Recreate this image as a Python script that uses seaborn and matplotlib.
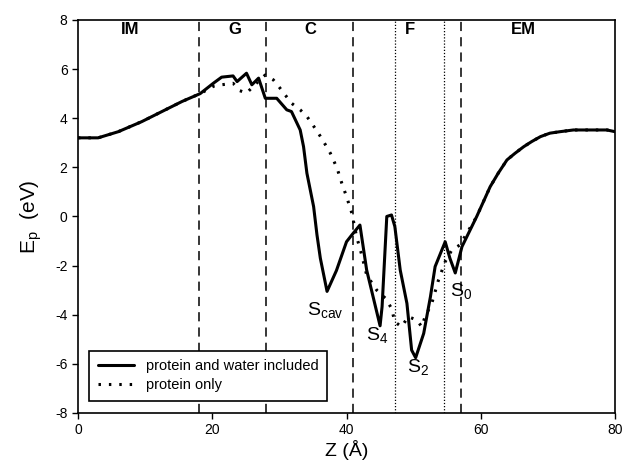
import matplotlib
matplotlib.use("Agg")
import matplotlib.pyplot as plt
import seaborn as sns
import pandas as pd

# Potential energy profile along the pore axis
z_water = [0, 3, 6, 9.5, 12.5, 15.5, 18.2, 20.2, 21.4, 23.1, 23.7, 25.1, 25.9, 26.9,
           27.9, 29.6, 31.1, 31.8, 33.1, 33.6, 34.1, 34.6, 35.1, 35.6, 36.1, 37.1,
           38.5, 40.0, 40.8, 42.0, 43.0, 45.0, 45.3, 46.0, 46.7, 47.2, 48.0, 49.0,
           49.7, 50.3, 51.5, 52.5, 53.2, 54.7, 55.4, 56.2, 57.2, 59.4, 61.4, 62.6,
           63.9, 65.1, 66.4, 67.6, 68.9, 70.3, 71.8, 73.8, 78.8, 80]
ep_water = [3.2, 3.2, 3.45, 3.86, 4.27, 4.68, 5.0, 5.43, 5.67, 5.72, 5.49, 5.83, 5.36, 5.63,
            4.81, 4.81, 4.34, 4.27, 3.52, 2.84, 1.76, 1.08, 0.4, -0.75, -1.7, -3.05,
            -2.2, -1.03, -0.75, -0.35, -2.18, -4.45, -3.67, 0.0, 0.06, -0.41, -2.18, -3.54,
            -5.44, -5.75, -4.76, -3.27, -2.04, -1.03, -1.70, -2.3, -1.23, 0.0, 1.21, 1.76,
            2.3, 2.57, 2.84, 3.05, 3.25, 3.39, 3.45, 3.52, 3.52, 3.45]

z_protein = [0, 3, 6, 9.5, 12.5, 15.5, 18.2, 20.2, 21.4, 23.1, 24.1, 25.1, 26.5, 27.9,
             29.1, 30.1, 31.8, 33.1, 34.1, 34.8, 36.3, 37.6, 38.6, 39.3, 40.0, 40.8,
             41.5, 42.2, 43.0, 44.5, 45.8, 46.7, 47.2, 48.2, 49.2, 50.5, 51.2, 51.7,
             52.7, 53.7, 54.7, 55.7, 56.9, 59.4, 61.4, 62.6, 63.9, 65.1, 66.4, 67.6,
             68.9, 70.3, 71.8, 73.8, 78.8, 80]
ep_protein = [3.2, 3.2, 3.45, 3.86, 4.27, 4.68, 5.0, 5.3, 5.36, 5.42, 5.12, 5.02, 5.4, 5.76,
              5.56, 5.22, 4.61, 4.34, 4.07, 3.80, 3.18, 2.57, 1.96, 1.35, 0.81, 0.13,
              -0.82, -1.5, -2.38, -3.0, -3.33, -3.74, -4.29, -4.49, -4.08, -4.22, -4.49, -4.08,
              -3.54, -2.59, -1.84, -1.36, -1.16, 0.0, 1.21, 1.76, 2.3, 2.57, 2.84, 3.05,
              3.25, 3.39, 3.45, 3.52, 3.52, 3.45]

dashed_bounds = [18, 28, 41, 57]
dotted_bounds = [47.2, 54.5]
region_names = ["IM", "G", "C", "F", "EM"]
region_centers = [7.7, 23.4, 34.6, 49.5, 66.3]
site_names = ["S$_{\\mathregular{cav}}$", "S$_{\\mathregular{4}}$",
              "S$_{\\mathregular{2}}$", "S$_{\\mathregular{0}}$"]
site_z = [36.8, 44.6, 50.7, 57.0]
site_ep = [-3.85, -4.85, -6.15, -3.05]

sns.set_theme(style="ticks")
plt.rcParams["font.family"] = ["Liberation Sans", "DejaVu Sans"]
plt.rcParams["axes.unicode_minus"] = False
plt.rcParams["text.color"] = "black"
plt.rcParams["axes.labelcolor"] = "black"

fig = plt.figure(figsize=(6.23, 4.63), dpi=100)
ax = fig.add_axes([0.1252, 0.108, 0.862, 0.849])

df_w = pd.DataFrame({"Z": z_water, "Ep": ep_water})
df_p = pd.DataFrame({"Z": z_protein, "Ep": ep_protein})

for x in dashed_bounds:
    ax.axvline(x, color="black", lw=1.1, dashes=(6, 4), zorder=1)
for x in dotted_bounds:
    ax.axvline(x, color="black", lw=0.9, dashes=(1, 1.5), zorder=1)

sns.lineplot(data=df_w, x="Z", y="Ep", ax=ax, color="black", lw=2.2,
             label="protein and water included", zorder=3)
line_p = sns.lineplot(data=df_p, x="Z", y="Ep", ax=ax, color="black", lw=2.2,
                      label="protein only", zorder=2).lines[-1]
line_p.set_dashes((0.8, 2.6))

for name, xc in zip(region_names, region_centers):
    ax.text(xc, 7.6, name, ha="center", va="center", fontsize=12, fontweight="bold")

for name, xs, ys in zip(site_names, site_z, site_ep):
    ax.text(xs, ys, name, ha="center", va="center", fontsize=14)

ax.set_xlim(0, 80)
ax.set_ylim(-8, 8)
ax.set_xticks([0, 20, 40, 60, 80])
ax.set_yticks(range(-8, 9, 2))
ax.tick_params(direction="out", length=4, width=1, labelsize=10, colors="black",
               top=False, right=False)
for s in ax.spines.values():
    s.set_color("black")
    s.set_linewidth(1.2)

ax.set_xlabel("Z (Å)", fontsize=14, labelpad=2)
ax.set_ylabel("E$_{\\mathregular{p}}$  (eV)", fontsize=15, labelpad=8)

leg = ax.legend(loc="lower left", bbox_to_anchor=(0.007, 0.013), fontsize=10.5,
                frameon=True, fancybox=False, edgecolor="black", framealpha=1,
                handlelength=2.5, borderpad=0.6, labelspacing=0.3)
leg.get_frame().set_linewidth(1.2)

fig.savefig("out.png", dpi=100)
